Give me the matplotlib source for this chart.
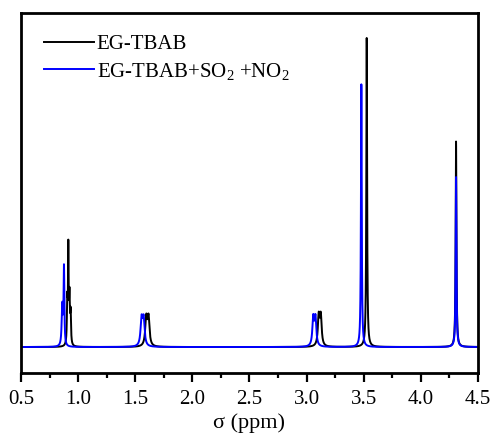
#!/usr/bin/env python3
# -*- coding: utf-8 -*-

"""1H NMR spectra of EG-TBAB before and after SO2 + NO2 absorption"""

import matplotlib
matplotlib.use('Agg')
import matplotlib.pyplot as plt
import numpy as np

# -- Peak tables: centre (ppm), intensity (rel.), half width (ppm) -- #
BLACK_CENTRES = [0.905, 0.914, 0.924, 0.934, 1.596, 1.616, 3.106, 3.124, 3.526, 4.308]
BLACK_HEIGHTS = [14.0, 30.0, 15.0, 10.0, 9.0, 9.0, 9.5, 9.5, 100.0, 66.5]
BLACK_WIDTHS = [0.004, 0.003, 0.004, 0.004, 0.010, 0.010, 0.009, 0.009, 0.004, 0.004]

BLUE_CENTRES = [0.861, 0.876, 1.555, 1.573, 3.058, 3.077, 3.479, 4.308]
BLUE_HEIGHTS = [13.0, 25.0, 8.5, 8.5, 9.0, 9.0, 85.0, 55.0]
BLUE_WIDTHS = [0.006, 0.004, 0.010, 0.010, 0.009, 0.009, 0.004, 0.004]

X_TICKS = [0.5, 1.0, 1.5, 2.0, 2.5, 3.0, 3.5, 4.0, 4.5]
LABELS = ['EG-TBAB', 'EG-TBAB+SO$_2$ +NO$_2$']

plt.rcParams['font.family'] = 'Liberation Serif'
plt.rcParams['mathtext.fontset'] = 'custom'
plt.rcParams['mathtext.rm'] = 'Liberation Serif'
plt.rcParams['mathtext.it'] = 'Liberation Serif:italic'


def spectrum(ppm, centres, heights, widths):
    """Sum of Lorentzian lines."""
    y = np.zeros_like(ppm)
    for c, h, w in zip(centres, heights, widths):
        y += h * w ** 2 / ((ppm - c) ** 2 + w ** 2)
    return y


def main():
    ppm = np.linspace(0.5, 4.5, 40001)
    black = spectrum(ppm, BLACK_CENTRES, BLACK_HEIGHTS, BLACK_WIDTHS)
    blue = spectrum(ppm, BLUE_CENTRES, BLUE_HEIGHTS, BLUE_WIDTHS)

    fig = plt.figure(figsize=(4.92, 4.33), dpi=100)
    ax = fig.add_axes([0.0427, 0.1386, 0.9288, 0.8314])
    ax.plot(ppm, black, color='black', lw=1.4, label=LABELS[0])
    ax.plot(ppm, blue, color='#0000ff', lw=1.4, label=LABELS[1])

    ax.set_xlim(0.5, 4.5)
    ax.set_ylim(-8.4, 108.1)
    ax.set_xticks(X_TICKS)
    ax.set_xticks(np.arange(0.75, 4.5, 0.5), minor=True)
    ax.set_xticklabels([f'{t:.1f}' for t in X_TICKS])
    ax.set_yticks([])
    ax.tick_params(axis='x', which='major', direction='out', length=6.5, width=1.6,
                   labelsize=15, pad=6)
    ax.tick_params(axis='x', which='minor', direction='out', length=3.8, width=1.6)
    for spine in ax.spines.values():
        spine.set_linewidth(2)

    ax.set_xlabel('σ (ppm)', fontsize=16, labelpad=3)
    ax.legend(loc='upper left', bbox_to_anchor=(0.031, 0.964), frameon=False,
              fontsize=15, handlelength=2.4, handletextpad=0.15,
              labelspacing=0.33, borderaxespad=0)

    fig.savefig('out.png', dpi=100)


if __name__ == '__main__':
    main()
